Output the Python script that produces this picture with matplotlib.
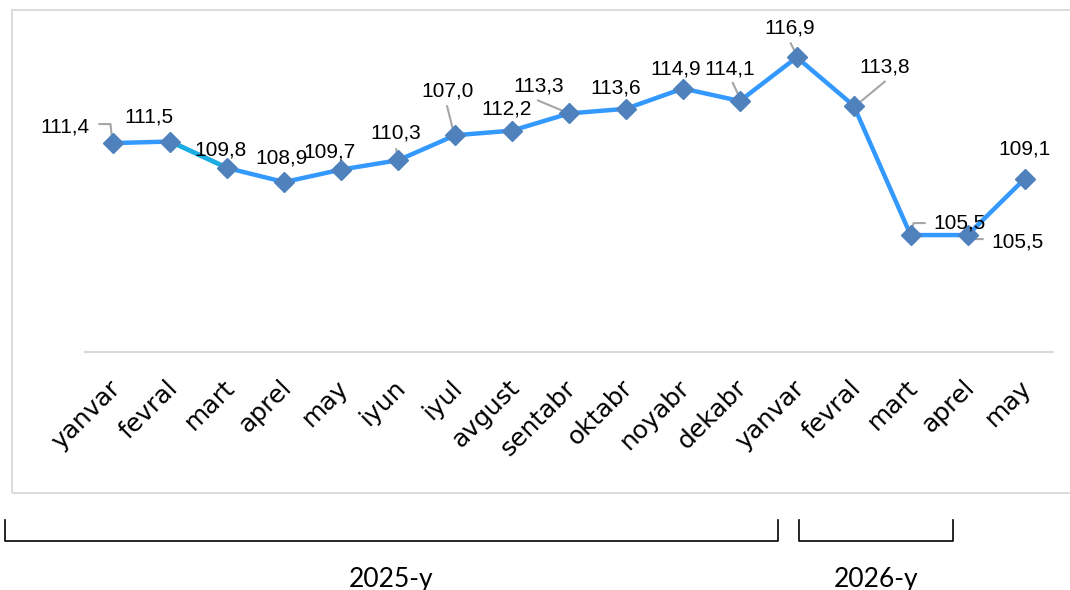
import numpy as np
import matplotlib.pyplot as plt
import matplotlib.transforms as mtrans
from matplotlib.lines import Line2D
from matplotlib.patches import Rectangle

# data
months = ["yanvar", "fevral", "mart", "aprel", "may", "iyun", "iyul", "avgust",
          "sentabr", "oktabr", "noyabr", "dekabr",
          "yanvar", "fevral", "mart", "aprel", "may"]
values = [111.4, 111.5, 109.8, 108.9, 109.7, 110.3, 111.9, 112.2,
          113.3, 113.6, 114.9, 114.1, 116.9, 113.8, 105.5, 105.5, 109.1]
labels = ["111,4", "111,5", "109,8", "108,9", "109,7", "110,3", "107,0", "112,2",
          "113,3", "113,6", "114,9", "114,1", "116,9", "113,8", "105,5", "105,5", "109,1"]
years = ["2025-y", "2026-y"]

# label offsets in pixels (dx, dy) from the point, and optional leader path
label_off = [(-49, 16), (-21, 25), (-7, 18), (-3, 24), (-12, 18), (-2, 27), (-8, 44), (-5, 22),
             (-30, 27), (-10, 21), (-7, 20), (-10, 32), (-7, 29), (31, 39), (49, 12), (50, -7), (0, 30)]
leaders = {
    0: [(-14, 19), (-3, 19), (-1, 1)],
    5: [(-2, 11), (0, 0)],
    6: [(-8, 29), (-1, 1)],
    8: [(-31, 13), (0, 0)],
    11: [(-7, 18), (1, 1)],
    12: [(-6, 14), (1, 0)],
    13: [(31, 24), (2, 0)],
    14: [(14, 12), (3, 12), (0, 2)],
    15: [(15, -4), (3, -4), (0, 2)],
}

fig = plt.figure(figsize=(10.7, 5.9), dpi=100)
W, H = 1070, 590

# outer chart border
fig.patches.append(Rectangle((12 / W, (H - 493) / H), 1.1, 483 / H, transform=fig.transFigure,
                             fill=False, edgecolor="#D9D9D9", linewidth=1.3))

ax = fig.add_axes([85 / W, (H - 352) / H, (1053 - 85) / W, (352 - 9) / H])
x = np.arange(len(values))
ax.set_xlim(-0.5, len(values) - 0.5)
ax.set_ylim(98, 120)

ax.plot(x, values, color="#3399FF", linewidth=3.2, solid_capstyle="round", zorder=2)
ax.plot(x[1:3], values[1:3], color="#1AAEE3", linewidth=3.2, zorder=2)
ax.plot(x, values, linestyle="none", marker="D", markersize=10, color="#4F81BD", zorder=3)

for i, (v, lab) in enumerate(zip(values, labels)):
    dx, dy = label_off[i]
    ax.annotate(lab, (x[i], v), xytext=(dx * 0.72, dy * 0.72), textcoords="offset points",
                ha="center", va="center", fontsize=15, family="Liberation Sans", color="#000000")
    if i in leaders:
        pts = leaders[i]
        disp = ax.transData.transform((x[i], v))
        path = [ax.transData.inverted().transform((disp[0] + a, disp[1] + b)) for a, b in pts]
        ax.plot([p[0] for p in path], [p[1] for p in path], color="#A6A6A6", linewidth=1.5, zorder=1)

for s in ["top", "right", "left"]:
    ax.spines[s].set_visible(False)
ax.spines["bottom"].set_color("#D9D9D9")
ax.spines["bottom"].set_linewidth(1.5)
ax.set_yticks([])
ax.set_xticks(x)
ax.set_xticklabels(months, rotation=45, ha="right", va="top", rotation_mode="anchor",
                   fontsize=18, family="DejaVu Sans")
ax.tick_params(axis="x", length=0, pad=17)
shift = mtrans.ScaledTranslation(-5 / 100, 0, fig.dpi_scale_trans)
for t in ax.get_xticklabels():
    t.set_transform(t.get_transform() + shift)

# year brackets
def bracket(x0, x1, text):
    y0, y1 = (H - 520) / H, (H - 541) / H
    fig.add_artist(Line2D([x0 / W, x0 / W, x1 / W, x1 / W], [y0, y1, y1, y0],
                          transform=fig.transFigure, color="black", linewidth=1.2))
    fig.text((x0 + x1) / 2 / W, (H - 579) / H, text, ha="center", va="center",
             fontsize=19, family="Lato")

bracket(5, 778, years[0])
bracket(799, 953, years[1])

fig.savefig("out.png", dpi=100)
